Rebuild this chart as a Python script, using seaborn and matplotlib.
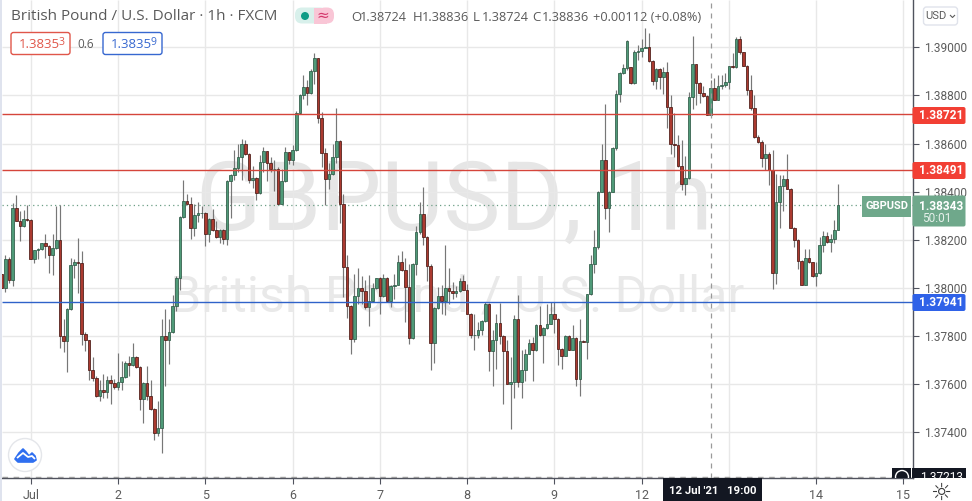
import numpy as np
import pandas as pd
import seaborn as sns
import matplotlib
matplotlib.use('Agg')
import matplotlib.pyplot as plt
from matplotlib.patches import Rectangle, FancyBboxPatch, Circle, Polygon

# hourly GBP/USD candles
opens = [1.38055, 1.37999, 1.38118, 1.38030, 1.38333, 1.38277, 1.38257, 1.38287, 1.38282, 1.38120,
         1.38157, 1.38162, 1.38184, 1.38173, 1.38137, 1.38166, 1.38200, 1.37798, 1.37777, 1.37912,
         1.38095, 1.38108, 1.38104, 1.37808, 1.37782, 1.37658, 1.37623, 1.37548, 1.37575, 1.37566,
         1.37616, 1.37602, 1.37586, 1.37608, 1.37629, 1.37688, 1.37679, 1.37712, 1.37670, 1.37537,
         1.37604, 1.37548, 1.37495, 1.37394, 1.37416, 1.37800, 1.37782, 1.37815, 1.37925, 1.38041,
         1.38295, 1.38361, 1.38350, 1.38250, 1.38302, 1.38312, 1.38312, 1.38223, 1.38287, 1.38240,
         1.38211, 1.38240, 1.38204, 1.38442, 1.38471, 1.38500, 1.38542, 1.38600, 1.38555, 1.38450,
         1.38455, 1.38395, 1.38525, 1.38567, 1.38517, 1.38492, 1.38492, 1.38349, 1.38442, 1.38563,
         1.38530, 1.38571, 1.38725, 1.38800, 1.38837, 1.38809, 1.38900, 1.38955, 1.38705, 1.38559,
         1.38453, 1.38475, 1.38546, 1.38609, 1.38350, 1.38086, 1.37925, 1.37788, 1.37966, 1.38000,
         1.37986, 1.37920, 1.37943, 1.38000, 1.38039, 1.37966, 1.38042, 1.37945, 1.38007, 1.38013,
         1.38109, 1.38074, 1.38003, 1.37791, 1.38100, 1.38230, 1.38305, 1.38211, 1.38092, 1.37770,
         1.37917, 1.37967, 1.37945, 1.38000, 1.37986, 1.37978, 1.37986, 1.38028, 1.37992, 1.37892,
         1.37802, 1.37805, 1.37825, 1.37860, 1.37934, 1.37736, 1.37784, 1.37853, 1.37800, 1.37736,
         1.37600, 1.37607, 1.37871, 1.37607, 1.37659, 1.37725, 1.37771, 1.37742, 1.37846, 1.37803,
         1.37834, 1.37850, 1.37892, 1.37871, 1.37746, 1.37717, 1.37798, 1.37742, 1.37792, 1.37621,
         1.37777, 1.37774, 1.37973, 1.38100, 1.38171, 1.38400, 1.38531, 1.38330, 1.38400, 1.38581,
         1.38805, 1.38892, 1.38913, 1.38917, 1.38850, 1.38982, 1.38987, 1.38999, 1.39003, 1.38944,
         1.38861, 1.38912, 1.38875, 1.38896, 1.38753, 1.38596, 1.38592, 1.38507, 1.38433, 1.38458,
         1.38792, 1.38929, 1.38850, 1.38811, 1.38799, 1.38718, 1.38833, 1.38783, 1.38840, 1.38843,
         1.38857, 1.38921, 1.38917, 1.39037, 1.38979, 1.38924, 1.38821, 1.38746, 1.38628, 1.38607,
         1.38540, 1.38558, 1.38489, 1.38062, 1.38357, 1.38425, 1.38454, 1.38412, 1.38250, 1.38200,
         1.38112, 1.38012, 1.38123, 1.38107, 1.38048, 1.38062, 1.38176, 1.38214, 1.38190, 1.38201,
         1.38242]
closes = [1.37999, 1.38118, 1.38030, 1.38333, 1.38277, 1.38257, 1.38287, 1.38282, 1.38120, 1.38157,
          1.38162, 1.38184, 1.38173, 1.38137, 1.38166, 1.38200, 1.37798, 1.37777, 1.37912, 1.38095,
          1.38108, 1.38104, 1.37808, 1.37782, 1.37658, 1.37623, 1.37548, 1.37575, 1.37566, 1.37616,
          1.37602, 1.37586, 1.37608, 1.37629, 1.37688, 1.37679, 1.37712, 1.37670, 1.37537, 1.37604,
          1.37548, 1.37495, 1.37394, 1.37416, 1.37800, 1.37782, 1.37815, 1.37925, 1.38041, 1.38295,
          1.38361, 1.38350, 1.38250, 1.38302, 1.38312, 1.38312, 1.38223, 1.38287, 1.38240, 1.38211,
          1.38240, 1.38204, 1.38442, 1.38471, 1.38500, 1.38542, 1.38600, 1.38555, 1.38450, 1.38455,
          1.38395, 1.38525, 1.38567, 1.38517, 1.38492, 1.38492, 1.38349, 1.38442, 1.38563, 1.38530,
          1.38571, 1.38725, 1.38800, 1.38837, 1.38809, 1.38900, 1.38955, 1.38705, 1.38559, 1.38453,
          1.38475, 1.38546, 1.38609, 1.38350, 1.38086, 1.37925, 1.37788, 1.37966, 1.38000, 1.37986,
          1.37920, 1.37943, 1.38000, 1.38039, 1.37966, 1.38042, 1.37945, 1.38007, 1.38013, 1.38109,
          1.38074, 1.38003, 1.37791, 1.38100, 1.38230, 1.38305, 1.38211, 1.38092, 1.37770, 1.37917,
          1.37967, 1.37945, 1.38000, 1.37986, 1.37978, 1.37986, 1.38028, 1.37992, 1.37892, 1.37802,
          1.37805, 1.37825, 1.37860, 1.37934, 1.37736, 1.37784, 1.37853, 1.37800, 1.37736, 1.37600,
          1.37607, 1.37871, 1.37607, 1.37659, 1.37725, 1.37771, 1.37742, 1.37846, 1.37803, 1.37834,
          1.37850, 1.37892, 1.37871, 1.37746, 1.37717, 1.37798, 1.37742, 1.37792, 1.37621, 1.37777,
          1.37774, 1.37973, 1.38100, 1.38171, 1.38400, 1.38531, 1.38330, 1.38400, 1.38581, 1.38805,
          1.38892, 1.38913, 1.39026, 1.38850, 1.38982, 1.38987, 1.38999, 1.39003, 1.38944, 1.38861,
          1.38912, 1.38875, 1.38896, 1.38753, 1.38596, 1.38592, 1.38507, 1.38433, 1.38458, 1.38792,
          1.38929, 1.38850, 1.38811, 1.38799, 1.38718, 1.38833, 1.38783, 1.38840, 1.38843, 1.38857,
          1.38921, 1.38917, 1.39037, 1.38979, 1.38924, 1.38821, 1.38746, 1.38628, 1.38607, 1.38540,
          1.38558, 1.38489, 1.38062, 1.38357, 1.38425, 1.38454, 1.38412, 1.38250, 1.38200, 1.38112,
          1.38012, 1.38123, 1.38107, 1.38048, 1.38062, 1.38176, 1.38214, 1.38190, 1.38201, 1.38242,
          1.38343]
highs = [1.38055, 1.38138, 1.38129, 1.38351, 1.38384, 1.38319, 1.38323, 1.38343, 1.38287, 1.38159,
         1.38166, 1.38187, 1.38222, 1.38176, 1.38222, 1.38340, 1.38345, 1.37870, 1.37916, 1.38125,
         1.38120, 1.38208, 1.38152, 1.37815, 1.37784, 1.37712, 1.37631, 1.37618, 1.37641, 1.37631,
         1.37638, 1.37620, 1.37729, 1.37694, 1.37694, 1.37715, 1.37768, 1.37715, 1.37673, 1.37607,
         1.37673, 1.37618, 1.37498, 1.37527, 1.37870, 1.37912, 1.37868, 1.37968, 1.38048, 1.38298,
         1.38448, 1.38388, 1.38379, 1.38350, 1.38357, 1.38340, 1.38315, 1.38291, 1.38326, 1.38277,
         1.38243, 1.38245, 1.38450, 1.38475, 1.38575, 1.38598, 1.38617, 1.38614, 1.38559, 1.38506,
         1.38459, 1.38552, 1.38587, 1.38570, 1.38545, 1.38531, 1.38503, 1.38492, 1.38584, 1.38566,
         1.38593, 1.38737, 1.38806, 1.38885, 1.38864, 1.38909, 1.38975, 1.38955, 1.38732, 1.38580,
         1.38520, 1.38600, 1.38746, 1.38614, 1.38389, 1.38135, 1.37930, 1.38059, 1.38080, 1.38048,
         1.38031, 1.38052, 1.38021, 1.38042, 1.38045, 1.38055, 1.38045, 1.38010, 1.38059, 1.38135,
         1.38152, 1.38125, 1.38098, 1.38103, 1.38256, 1.38355, 1.38420, 1.38214, 1.38098, 1.37920,
         1.38003, 1.38010, 1.38177, 1.38080, 1.38024, 1.38007, 1.38042, 1.38052, 1.38017, 1.37895,
         1.37889, 1.37857, 1.37864, 1.37941, 1.37937, 1.37823, 1.37889, 1.37937, 1.37802, 1.37781,
         1.37711, 1.37885, 1.37968, 1.37742, 1.37746, 1.37788, 1.37795, 1.37850, 1.37923, 1.37836,
         1.37931, 1.37941, 1.37941, 1.37874, 1.37749, 1.37802, 1.37802, 1.37843, 1.37795, 1.37871,
         1.37781, 1.37975, 1.38135, 1.38242, 1.38403, 1.38600, 1.38764, 1.38403, 1.38584, 1.38823,
         1.38899, 1.38931, 1.39030, 1.38919, 1.38989, 1.39010, 1.39037, 1.39082, 1.39062, 1.38947,
         1.38915, 1.38915, 1.38919, 1.38940, 1.38801, 1.38725, 1.38635, 1.38614, 1.38547, 1.38815,
         1.39047, 1.38929, 1.38857, 1.38840, 1.38804, 1.38864, 1.38871, 1.38885, 1.38885, 1.38892,
         1.38924, 1.38975, 1.39043, 1.39047, 1.38982, 1.38926, 1.38887, 1.38801, 1.38637, 1.38614,
         1.38600, 1.38565, 1.38572, 1.38475, 1.38468, 1.38468, 1.38558, 1.38415, 1.38253, 1.38204,
         1.38114, 1.38160, 1.38160, 1.38109, 1.38107, 1.38211, 1.38235, 1.38232, 1.38225, 1.38280,
         1.38433]
lows = [1.37999, 1.37982, 1.38020, 1.38009, 1.38277, 1.38194, 1.38254, 1.38279, 1.38118, 1.38104,
        1.38120, 1.38159, 1.38125, 1.38062, 1.38051, 1.38163, 1.37750, 1.37731, 1.37648, 1.37909,
        1.38041, 1.37976, 1.37763, 1.37736, 1.37618, 1.37612, 1.37545, 1.37527, 1.37541, 1.37541,
        1.37516, 1.37580, 1.37576, 1.37573, 1.37625, 1.37631, 1.37676, 1.37666, 1.37493, 1.37437,
        1.37534, 1.37493, 1.37368, 1.37384, 1.37312, 1.37590, 1.37684, 1.37812, 1.37902, 1.37990,
        1.38291, 1.38347, 1.38204, 1.38215, 1.38273, 1.38291, 1.38173, 1.38190, 1.38236, 1.38207,
        1.38187, 1.38180, 1.38178, 1.38292, 1.38448, 1.38482, 1.38448, 1.38552, 1.38437, 1.38413,
        1.38367, 1.38392, 1.38482, 1.38445, 1.38482, 1.38403, 1.38348, 1.38348, 1.38439, 1.38514,
        1.38509, 1.38568, 1.38723, 1.38784, 1.38759, 1.38806, 1.38848, 1.38684, 1.38503, 1.38343,
        1.38412, 1.38471, 1.38517, 1.38270, 1.37961, 1.37874, 1.37725, 1.37774, 1.37934, 1.37934,
        1.37913, 1.37841, 1.37941, 1.37996, 1.37889, 1.37961, 1.37941, 1.37920, 1.37955, 1.38010,
        1.38070, 1.37857, 1.37764, 1.37788, 1.38052, 1.38225, 1.38178, 1.38028, 1.37656, 1.37686,
        1.37913, 1.37892, 1.37885, 1.37931, 1.37955, 1.37961, 1.37984, 1.37989, 1.37889, 1.37791,
        1.37739, 1.37792, 1.37802, 1.37857, 1.37653, 1.37593, 1.37663, 1.37764, 1.37517, 1.37598,
        1.37413, 1.37541, 1.37586, 1.37542, 1.37611, 1.37723, 1.37611, 1.37736, 1.37800, 1.37686,
        1.37830, 1.37848, 1.37811, 1.37677, 1.37663, 1.37714, 1.37739, 1.37739, 1.37593, 1.37549,
        1.37774, 1.37705, 1.37968, 1.38061, 1.38163, 1.38398, 1.38288, 1.38232, 1.38398, 1.38575,
        1.38774, 1.38889, 1.38905, 1.38847, 1.38847, 1.38947, 1.38961, 1.38999, 1.38940, 1.38843,
        1.38829, 1.38829, 1.38808, 1.38665, 1.38558, 1.38544, 1.38503, 1.38405, 1.38387, 1.38454,
        1.38743, 1.38760, 1.38767, 1.38794, 1.38718, 1.38718, 1.38780, 1.38780, 1.38826, 1.38836,
        1.38826, 1.38915, 1.38915, 1.38971, 1.38921, 1.38804, 1.38740, 1.38621, 1.38604, 1.38503,
        1.38489, 1.38426, 1.37996, 1.38017, 1.38249, 1.38318, 1.38410, 1.38249, 1.38169, 1.38079,
        1.38010, 1.38010, 1.38104, 1.38044, 1.38007, 1.38058, 1.38149, 1.38187, 1.38149, 1.38187,
        1.38239]

# axis labels and levels
price_ticks = [1.39, 1.388, 1.386, 1.384, 1.382, 1.38, 1.378, 1.376, 1.374]
day_bars = [8, 32, 56, 80, 104, 128, 152, 176, 200, 224, 248]
day_labels = ['Jul', '2', '5', '6', '7', '8', '9', '12', '', '14', '15']
red_levels = [1.38721, 1.38491]
blue_levels = [1.37941]
last_price = 1.38343
cross_bar = 195
cross_price = 1.37213

UP = '#4f9a78'
DOWN = '#ab3a30'
EDGES = {True: '#2f5a47', False: '#4a1a15'}
GREY = '#50535e'
FONT = 'Open Sans'
AXFONT = 'Roboto'

df = pd.DataFrame({'open': opens, 'high': highs, 'low': lows, 'close': closes})
df['bar'] = np.arange(len(df))
df['up'] = df['close'] >= df['open']
df['base'] = df[['open', 'close']].min(axis=1)
df['size'] = (df['close'] - df['open']).abs()

sns.set_theme(style='white')
plt.rcParams['font.family'] = [FONT, 'DejaVu Sans']
plt.rcParams['lines.solid_capstyle'] = 'butt'

fig = plt.figure(figsize=(9.72, 5.01), dpi=100)
ax = fig.add_axes([2 / 972, 23 / 501, 910.5 / 972, 478 / 501])

# watermark
ax.text(0.497, 0.574, 'GBPUSD, 1h', transform=ax.transAxes, ha='center', va='center',
        fontsize=69, color='#e6e6e6', family=AXFONT, zorder=0)
ax.text(0.5, 0.378, 'British Pound / U.S. Dollar', transform=ax.transAxes, ha='center', va='center',
        fontsize=36, color='#e9e9e9', family=AXFONT, zorder=0)

# wicks
wicks = df.melt(id_vars='bar', value_vars=['high', 'low'], value_name='price')
sns.lineplot(data=wicks, x='bar', y='price', units='bar', estimator=None, color='#777777',
             linewidth=0.85, ax=ax, zorder=2, legend=False)

# bodies
for flag, col in [(True, UP), (False, DOWN)]:
    part = df[df['up'] == flag]
    sns.barplot(x=part['bar'].values, y=part['size'].values, bottom=part['base'].values,
                native_scale=True, errorbar=None, color=col, saturation=1, width=0.72,
                edgecolor=EDGES[flag], linewidth=0.55, ax=ax, zorder=3)

for lev in red_levels:
    ax.axhline(lev, color='#d5453b', lw=1.0, zorder=4)
for lev in blue_levels:
    ax.axhline(lev, color='#2f62c9', lw=1.0, zorder=4)
ax.axhline(last_price, color='#6b9e85', lw=0.9, ls=(0, (1, 2.5)), zorder=1)
ax.axhline(cross_price, color='#9a9a9a', lw=1.0, ls=(0, (4, 4)), zorder=4)
ax.axvline(cross_bar, color='#9a9a9a', lw=0.9, ls=(0, (4, 4)), zorder=4)

ax.set_xlim(0.085, 250.5)
ax.set_ylim(1.372081, 1.391973)
ax.yaxis.tick_right()
ax.set_yticks(price_ticks)
ax.set_yticklabels([f'{p:.5f}' for p in price_ticks], fontsize=8.6, color='#5c5c5c', family=AXFONT)
ax.set_xticks(day_bars)
ax.set_xticklabels(day_labels, fontsize=9, color='#5c5c5c', family=AXFONT)
ax.set_xlabel('')
ax.set_ylabel('')
ax.grid(True, color='#e8e8e8', lw=1.0)
ax.set_axisbelow(True)
ax.tick_params(axis='y', length=4, width=0.8, color=GREY, pad=4)
ax.tick_params(axis='x', length=4, width=0.8, color=GREY, pad=4, bottom=True)
for side in ['left', 'top']:
    ax.spines[side].set_visible(False)
for side in ['right', 'bottom']:
    ax.spines[side].set_visible(True)
    ax.spines[side].set_color(GREY)
    ax.spines[side].set_linewidth(1.0)

# everything that sits on top of the chart, placed in image pixels
ov = fig.add_axes([0, 0, 1, 1], facecolor='none')
ov.set_xlim(0, 972)
ov.set_ylim(501, 0)
ov.axis('off')

ov.add_patch(Rectangle((0, 0), 2, 501, color='#dfe3ee', lw=0))
ov.text(11, 16.5, 'British Pound / U.S. Dollar · 1h · FXCM', fontsize=11, color='#5a5a5a', va='center')

# status pill
ov.add_patch(FancyBboxPatch((295, 7.5), 32, 16, boxstyle='round,pad=0,rounding_size=7', fc='#d8f0eb', ec='none'))
ov.add_patch(Rectangle((314, 7.5), 13, 16, fc='#f9c6d6', ec='none'))
ov.add_patch(FancyBboxPatch((318, 7.5), 16, 16, boxstyle='round,pad=0,rounding_size=7', fc='#f9c6d6', ec='none'))
ov.add_patch(Circle((305, 16), 4, fc='#0e9c86', ec='none'))
ov.text(322.5, 15.5, '≈', fontsize=11, color='#d4386c', ha='center', va='center', family='DejaVu Sans')

# OHLC readout
for lab, val, x in [('O', '1.38724', 351), ('H', '1.38836', 412.5), ('L', '1.38724', 473), ('C', '1.38836', 532.5)]:
    ov.text(x, 17, lab, fontsize=9.5, color='#5a5a5a', va='center')
    ov.text(x + 9, 17, val, fontsize=9.2, color='#5a5a5a', va='center')
ov.text(593, 17, '+0.00112 (+0.08%)', fontsize=9.2, color='#5a5a5a', va='center')

# bid / ask boxes
for x0, col, val, last in [(11, '#e0564a', '1.3835', '3'), (103, '#3768d0', '1.3835', '9')]:
    ov.add_patch(FancyBboxPatch((x0, 32.5), 59, 22, boxstyle='round,pad=0,rounding_size=2.5', fc='white', ec=col, lw=1.0))
    ov.text(x0 + 7.5, 44.5, val, fontsize=9.5, color=col, va='center')
    ov.text(x0 + 47, 42, last, fontsize=7.5, color=col, va='center')
ov.text(86, 44, '0.6', fontsize=8.5, color='#5a5a5a', ha='center', va='center')

# price tags
for lev_y, col, txt in [(115.5, '#f23f34', '1.38721'), (170.5, '#f23f34', '1.38491'), (302.5, '#2f62e8', '1.37941')]:
    ov.add_patch(FancyBboxPatch((912.5, lev_y - 8.5), 53, 17, boxstyle='round,pad=0,rounding_size=2', fc=col, ec='none', zorder=5))
    ov.text(941.5, lev_y, txt, fontsize=8.6, color='white', weight='bold', family=AXFONT, ha='center', va='center', zorder=6)

ov.add_patch(Rectangle((862, 195.5), 49, 21, fc='#6fa88b', ec='none', zorder=5))
ov.text(886.5, 206, 'GBPUSD', fontsize=8, color='white', family=AXFONT, weight='bold', ha='center', va='center', zorder=6)
ov.add_patch(FancyBboxPatch((912.5, 195.5), 53, 31, boxstyle='round,pad=0,rounding_size=2', fc='#6fa88b', ec='none', zorder=5))
ov.text(941.5, 206, '1.38343', fontsize=8.6, color='white', weight='bold', family=AXFONT, ha='center', va='center', zorder=6)
ov.text(922, 219, '50:01', fontsize=8.6, color='#e5f0ea', family=AXFONT, ha='left', va='center', zorder=6)

# crosshair tags
ov.add_patch(Rectangle((663, 478), 99, 23, fc='#131722', ec='none', zorder=5))
ov.text(712.5, 490.5, "12 Jul '21   19:00", fontsize=8.2, color='white', weight='bold', family=AXFONT, ha='center', va='center', zorder=6)
clip = Rectangle((880, 460), 92, 18, transform=ov.transData)
for patch in [Rectangle((892, 468), 19, 12, fc='#131722', ec='none', zorder=5),
              Rectangle((912, 468), 54, 12, fc='#131722', ec='none', zorder=5)]:
    ov.add_patch(patch)
    patch.set_clip_path(clip)
t = ov.text(941.5, 477.5, '1.37213', fontsize=8.6, color='white', family=AXFONT, ha='center', va='center', zorder=6)
t.set_clip_path(clip)
c = Circle((902, 477), 6.5, fc='#131722', ec='white', lw=1, zorder=6)
ov.add_patch(c)
c.set_clip_path(clip)

# USD button and gear
ov.add_patch(FancyBboxPatch((923.5, 7), 34, 18, boxstyle='round,pad=0,rounding_size=3', fc='white', ec='#e0e3eb', lw=1))
ov.text(936, 16, 'USD', fontsize=8, color='#5c5c5c', family=AXFONT, ha='center', va='center')
ov.plot([950, 952.5, 955], [15, 17.5, 15], color='#5c5c5c', lw=0.8)
ov.text(941, 492.5, '☼', fontsize=17, color='#3c3c3c', ha='center', va='center', family='DejaVu Sans')

# logo
ov.add_patch(Circle((25, 455), 16.5, fc='white', ec='#e4e6ea', lw=1, zorder=5))
ov.add_patch(Polygon([[15, 459], [19, 453], [23, 449], [26, 452], [29, 456], [32, 453], [35, 456], [36, 460], [33, 462],
                      [18, 462]], fc='#2f6ff0', ec='#2f6ff0', lw=1.2, joinstyle='round', zorder=6))
ov.plot([17, 23, 28, 32, 35], [458, 453, 457, 456, 459], color='white', lw=1.3, zorder=7)

fig.savefig('out.png', dpi=100)
